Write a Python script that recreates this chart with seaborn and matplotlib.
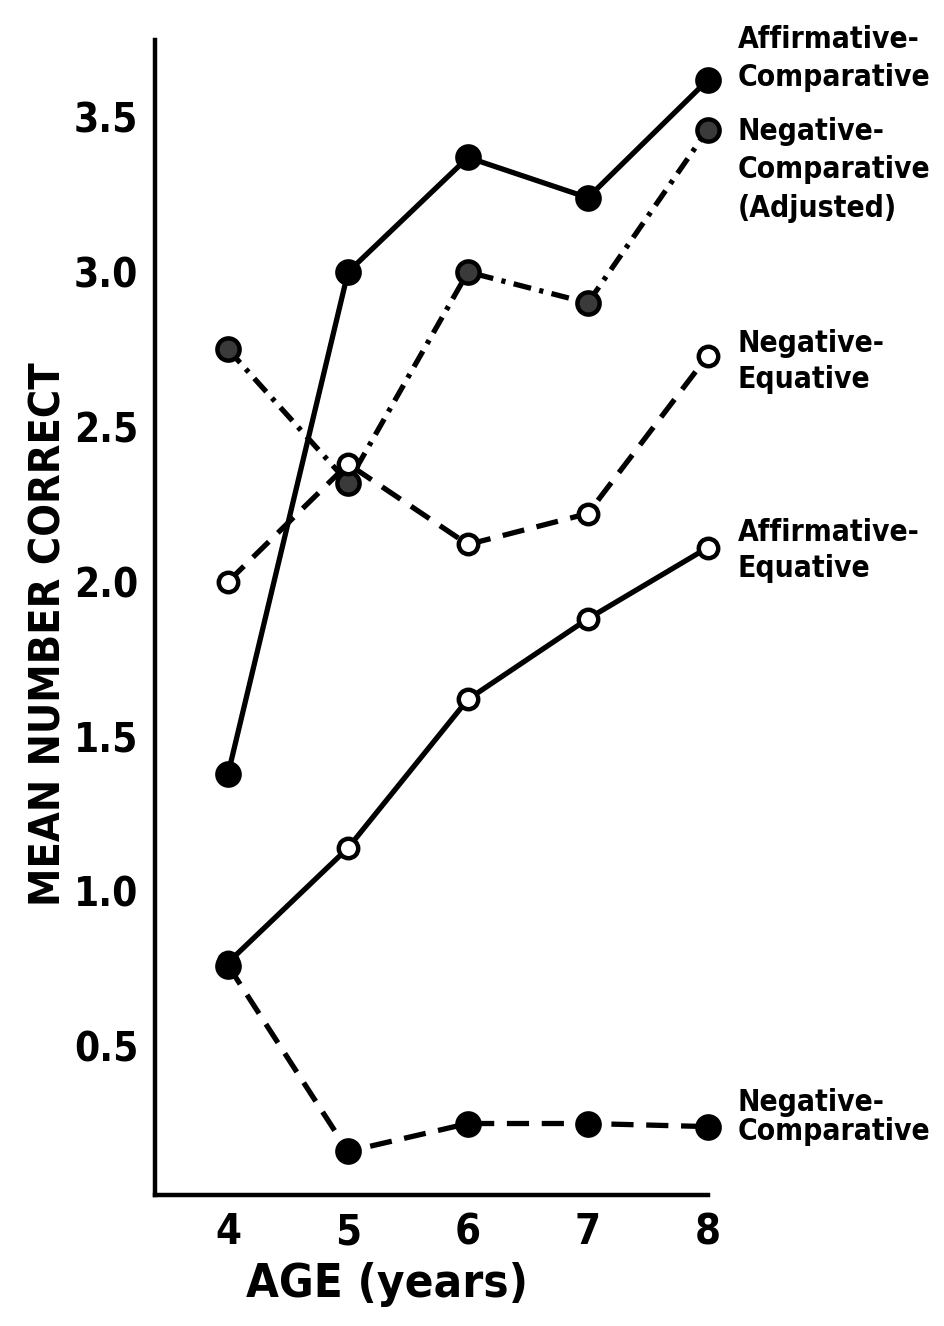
import matplotlib
matplotlib.use('Agg')
import matplotlib.pyplot as plt
import seaborn as sns
import pandas as pd

ages = [4, 5, 6, 7, 8]
aff_comp = [1.38, 3.00, 3.37, 3.24, 3.62]
neg_comp_adj = [2.75, 2.32, 3.00, 2.90, 3.46]
neg_equ = [2.00, 2.38, 2.12, 2.22, 2.73]
aff_equ = [0.77, 1.14, 1.62, 1.88, 2.11]
neg_comp = [0.76, 0.16, 0.25, 0.25, 0.24]

y_ticks = [0.5, 1.0, 1.5, 2.0, 2.5, 3.0, 3.5]
labels = ['Affirmative-\nComparative', 'Negative-\nComparative\n(Adjusted)',
          'Negative-\nEquative', 'Affirmative-\nEquative', 'Negative-\nComparative']
label_y = [3.69, 3.33, 2.71, 2.10, 0.27]

sns.set_style('white')
plt.rcParams['font.family'] = ['DejaVu Sans']
plt.rcParams['font.stretch'] = 'condensed'
plt.rcParams['font.weight'] = 'bold'
for k in ['text.color', 'axes.labelcolor', 'xtick.color', 'ytick.color', 'axes.edgecolor']:
    plt.rcParams[k] = 'black'

fig = plt.figure(figsize=(9.45, 13.26), dpi=100)
ax = fig.add_axes([0.164, 0.099, 0.585, 0.871])

lw = 3.8
dash = (4.2, 2.4)
dashdot = (3.4, 1.6, 0.8, 1.6)
series = [
    (aff_comp, '', 'black'),
    (neg_comp_adj, dashdot, '#3a3a3a'),
    (neg_equ, dash, 'white'),
    (aff_equ, '', 'white'),
    (neg_comp, dash, 'black'),
]
for vals, d, fc in series:
    df = pd.DataFrame({'age': ages, 'val': vals})
    sns.lineplot(data=df, x='age', y='val', ax=ax, color='black', linewidth=lw,
                 marker='o', markersize=16 if fc != 'white' else 14,
                 markerfacecolor=fc, markeredgecolor='black', markeredgewidth=3.2,
                 clip_on=False, zorder=3)
    if d:
        ax.lines[-1].set_dashes(d)

ax.set_xlim(3.39, 8.0)
ax.set_ylim(0.02, 3.75)
ax.set_xticks(ages)
ax.set_yticks(y_ticks)
ax.set_yticklabels([f'{v:.1f}' for v in y_ticks])
sns.despine(ax=ax)
for s in ['left', 'bottom']:
    ax.spines[s].set_linewidth(3.2)
ax.tick_params(axis='both', direction='in', width=3.2, labelsize=29, pad=12)
ax.tick_params(axis='y', length=20)
ax.tick_params(axis='x', length=21, labelsize=30)

ax.set_xlabel('AGE (years)', fontsize=34, fontweight='bold')
ax.xaxis.set_label_coords(0.42, -0.058)
ax.set_ylabel('MEAN NUMBER CORRECT', fontsize=31, fontweight='bold')
ax.yaxis.set_label_coords(-0.155, 0.485)

spacing = [1.4, 1.4, 1.3, 1.3, 1.0]
for txt, yy, ls in zip(labels, label_y, spacing):
    ax.text(8.25, yy, txt, fontsize=21.5, fontweight='bold', va='center', ha='left',
            linespacing=ls, clip_on=False)

fig.savefig('out.png', dpi=100)
